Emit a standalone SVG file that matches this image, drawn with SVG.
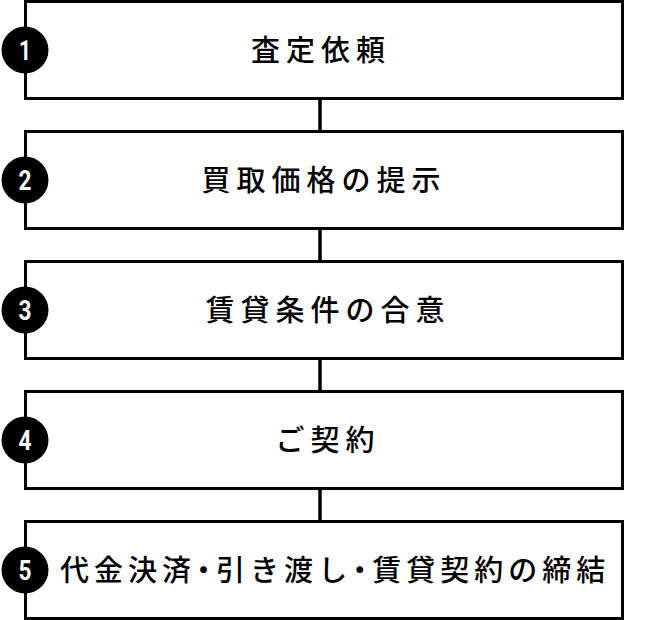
<svg xmlns="http://www.w3.org/2000/svg" width="648" height="620" viewBox="0 0 648 620">
<style>
.box{fill:#fff;stroke:#000;stroke-width:3}
.conn{stroke:#000;stroke-width:3.5;fill:none}
.badge{fill:#000}
.num{fill:#fff;font-family:Roboto,"Liberation Sans",sans-serif;font-weight:bold;font-size:28px;text-anchor:middle}
.lbl{fill:#000;font-family:"Noto Sans CJK JP",sans-serif;font-weight:500;font-size:29px;letter-spacing:6px;text-anchor:middle}
</style>
<rect width="648" height="620" fill="#fff"/>
<g id="connectors">
<line class="conn" x1="320" y1="99" x2="320" y2="131"/>
<line class="conn" x1="320" y1="229" x2="320" y2="261"/>
<line class="conn" x1="320" y1="359" x2="320" y2="391"/>
<line class="conn" x1="320" y1="489" x2="320" y2="521"/>
</g>
<g id="step1">
<rect class="box" x="25.5" y="1.5" width="597" height="97"/>
<circle class="badge" cx="25" cy="50" r="23.5"/>
<text class="num" x="25" y="60" textLength="12" lengthAdjust="spacingAndGlyphs">1</text>
<text class="lbl" x="321" y="60.5">査定依頼</text>
</g>
<g id="step2">
<rect class="box" x="25.5" y="131.5" width="597" height="97"/>
<circle class="badge" cx="25" cy="180" r="23.5"/>
<text class="num" x="25" y="190" textLength="13" lengthAdjust="spacingAndGlyphs">2</text>
<text class="lbl" x="324" y="190.5">買取価格の提示</text>
</g>
<g id="step3">
<rect class="box" x="25.5" y="261.5" width="597" height="97"/>
<circle class="badge" cx="25" cy="310" r="23.5"/>
<text class="num" x="25" y="320" textLength="13" lengthAdjust="spacingAndGlyphs">3</text>
<text class="lbl" x="328" y="320.5">賃貸条件の合意</text>
</g>
<g id="step4">
<rect class="box" x="25.5" y="391.5" width="597" height="97"/>
<circle class="badge" cx="25" cy="440" r="23.5"/>
<text class="num" x="25" y="450" textLength="13" lengthAdjust="spacingAndGlyphs">4</text>
<text class="lbl" x="328" y="450.5">ご契約</text>
</g>
<g id="step5">
<rect class="box" x="25.5" y="521.5" width="597" height="97"/>
<circle class="badge" cx="25" cy="570" r="23.5"/>
<text class="num" x="25" y="580" textLength="13" lengthAdjust="spacingAndGlyphs">5</text>
<text class="lbl" x="60" y="580.5" style="text-anchor:start;letter-spacing:5px" dx="0 0 0 0 -7 -7 0 0 0 -7 -7">代金決済・引き渡し・賃貸契約の締結</text>
</g>
</svg>
